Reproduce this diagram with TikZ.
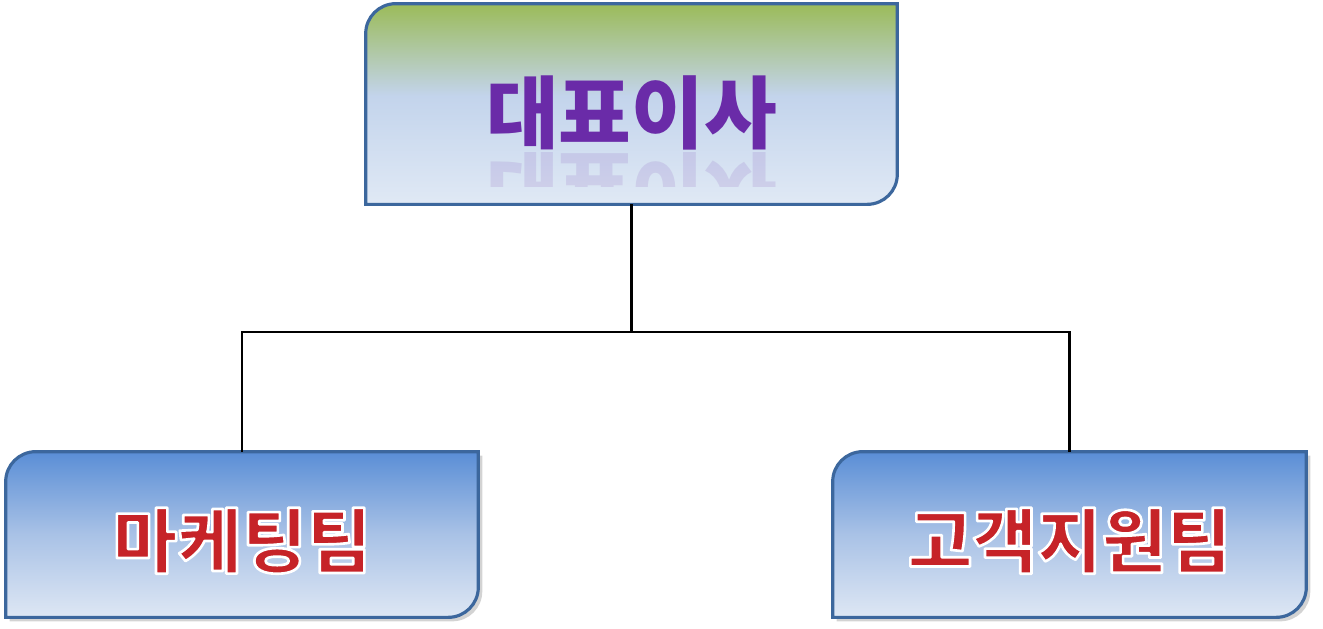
\documentclass[tikz,border=0pt]{standalone}
\usepackage{fontspec}
\newfontfamily\kofont{Noto Sans CJK KR}
\usetikzlibrary{positioning, backgrounds, shadows}

% Colours
\definecolor{ceogreen}{HTML}{9BBB59}
\definecolor{ceoblue}{HTML}{C3D4EC}
\definecolor{ceopale}{HTML}{E0E9F5}
\definecolor{teamtop}{HTML}{5A8ED6}
\definecolor{teammid}{HTML}{A9C2E6}
\definecolor{teambot}{HTML}{DEE7F4}
\definecolor{boxedge}{HTML}{3C679D}
\definecolor{ceotext}{HTML}{6A2BA8}
\definecolor{teamtext}{HTML}{C62328}

\pgfdeclareverticalshading{ceoshade}{100bp}{color(0bp)=(ceopale); color(25bp)=(ceopale); color(52bp)=(ceoblue); color(75bp)=(ceogreen); color(100bp)=(ceogreen)}
\pgfdeclareverticalshading{teamshade}{100bp}{color(0bp)=(teambot); color(25bp)=(teambot); color(50bp)=(teammid); color(75bp)=(teamtop); color(100bp)=(teamtop)}

% white rim round the team names (fill + stroke text)
\newcommand{\rimtext}[1]{\special{pdf:literal direct 1 1 1 RG 1.5 w 1 j 2 Tr}#1\special{pdf:literal direct 0 Tr}}

\begin{document}
\begin{tikzpicture}[x=0.02cm, y=-0.02cm,
    box/.style={inner sep=0pt, text depth=0pt},
    ceofont/.style={font={\kofont\bfseries\fontsize{45pt}{50pt}\selectfont}},
    teamfont/.style={font={\kofont\bfseries\fontsize{40pt}{46pt}\selectfont}},
    diag outline/.style={insert path={(#1.south west) [rounded corners=0.6cm] -- (#1.north west) [sharp corners] -- (#1.north east) [rounded corners=0.6cm] -- (#1.south east) [sharp corners] -- cycle}},
    edge/.style={draw=boxedge, line width=1.8pt},
    conn/.style={draw=black, line width=1.5pt}]
    %% Organisation chart

    \useasboundingbox (0,0) rectangle (1323,629);

    % Boxes
    \node[box, ceofont, text height=44pt, minimum width=10.62cm, minimum height=4cm, text=ceotext] (ceo) at (631.5,104) {대표이사};
    \node[box, teamfont, text height=37pt, minimum width=9.44cm, minimum height=3.3cm, text=teamtext] (mkt) at (242,534.5) {\rimtext{마케팅팀}};
    \node[box, teamfont, text height=37pt, minimum width=9.46cm, minimum height=3.3cm, text=teamtext] (cs) at (1069.5,534.5) {\rimtext{고객지원팀}};

    % Shapes behind
    \begin{scope}[on background layer]
        \shadedraw[shading=ceoshade, edge, diag outline=ceo];
        \shadedraw[shading=teamshade, edge, diag outline=mkt,
            drop shadow={shadow xshift=0.08cm, shadow yshift=-0.08cm, opacity=0.35}];
        \shadedraw[shading=teamshade, edge, diag outline=cs,
            drop shadow={shadow xshift=0.08cm, shadow yshift=-0.08cm, opacity=0.35}];
    \end{scope}

    % Reflection
    \begin{scope}
        \clip (366,152) rectangle (897,186);
        \node[box, ceofont, anchor=base, yscale=-1, opacity=0.12, text=ceotext] (ceomirror) at (631.5,153) {대표이사};
    \end{scope}

    % Connectors
    \coordinate (bar) at (631.5,332);
    \draw[conn] (ceo.south) -- (bar);
    \draw[conn] (mkt.north) |- (bar) -| (cs.north);

\end{tikzpicture}
\end{document}
